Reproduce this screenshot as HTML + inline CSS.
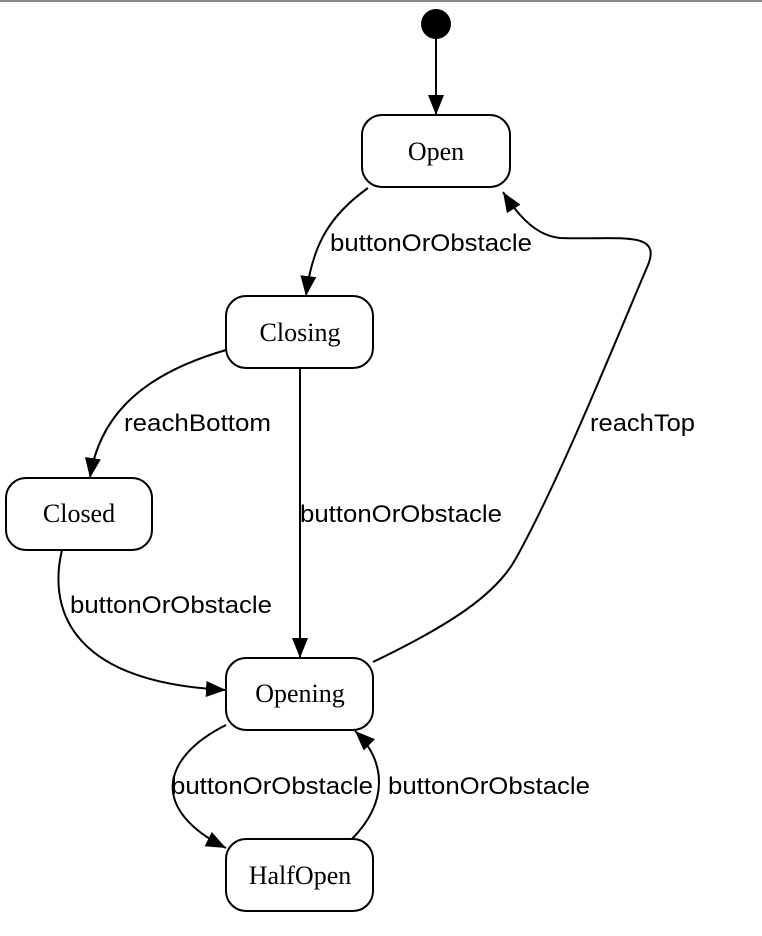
<!DOCTYPE html>
<html><head><style>
html,body{margin:0;padding:0;background:#fff;}
svg{display:block;}
.n{fill:#fff;stroke:#000;stroke-width:2;}
.e{fill:none;stroke:#000;stroke-width:2;}
.t{font-family:"Liberation Serif",serif;font-size:26px;text-anchor:middle;}
.l{font-family:"Liberation Sans",sans-serif;font-size:24px;}
</style></head><body>
<svg width="762" height="936" viewBox="0 0 762 936" xmlns="http://www.w3.org/2000/svg">
<defs>
<marker id="a" markerUnits="userSpaceOnUse" markerWidth="24" markerHeight="20" refX="20" refY="8" orient="auto">
<path d="M0,0 L20,8 L0,16 z" fill="#000"/>
</marker>
</defs>
<rect x="0" y="0" width="762" height="2" fill="#888"/>
<circle cx="436" cy="24" r="15" fill="#000"/>
<path class="e" d="M436,39 L436,115" marker-end="url(#a)"/>

<rect class="n" x="362" y="115" width="148" height="72" rx="20"/>
<text class="t" x="436" y="160">Open</text>
<rect class="n" x="226" y="296" width="147" height="72" rx="20"/>
<text class="t" x="300" y="341">Closing</text>
<rect class="n" x="6" y="478" width="146" height="72" rx="20"/>
<text class="t" x="79" y="522">Closed</text>
<rect class="n" x="226" y="658" width="147" height="72" rx="20"/>
<text class="t" x="300" y="702">Opening</text>
<rect class="n" x="226" y="839" width="147" height="72" rx="20"/>
<text class="t" x="300" y="884">HalfOpen</text>

<path class="e" d="M368,188 C330,215 312,245 306,296" marker-end="url(#a)"/>
<path class="e" d="M226,350 C150,372 100,410 90,478" marker-end="url(#a)"/>
<path class="e" d="M300,368 L300,658" marker-end="url(#a)"/>
<path class="e" d="M62,550 C50,600 60,682 226,690" marker-end="url(#a)"/>
<path class="e" d="M373,662 C450,625 495,595 515,560 C560,480 620,330 648,265 C662,230 620,240 560,238 C540,236 522,222 503,192" marker-end="url(#a)"/>
<path class="e" d="M226,725 C160,758 150,810 226,848" marker-end="url(#a)"/>
<path class="e" d="M352,839 C390,800 385,760 355,731" marker-end="url(#a)"/>

<text class="l" x="330" y="251" textLength="202" lengthAdjust="spacingAndGlyphs">buttonOrObstacle</text>
<text class="l" x="124" y="431" textLength="147" lengthAdjust="spacingAndGlyphs">reachBottom</text>
<text class="l" x="300" y="522" textLength="202" lengthAdjust="spacingAndGlyphs">buttonOrObstacle</text>
<text class="l" x="590" y="431" textLength="105" lengthAdjust="spacingAndGlyphs">reachTop</text>
<text class="l" x="70" y="613" textLength="202" lengthAdjust="spacingAndGlyphs">buttonOrObstacle</text>
<text class="l" x="171" y="794" textLength="202" lengthAdjust="spacingAndGlyphs">buttonOrObstacle</text>
<text class="l" x="388" y="794" textLength="202" lengthAdjust="spacingAndGlyphs">buttonOrObstacle</text>
</svg>
</body></html>
